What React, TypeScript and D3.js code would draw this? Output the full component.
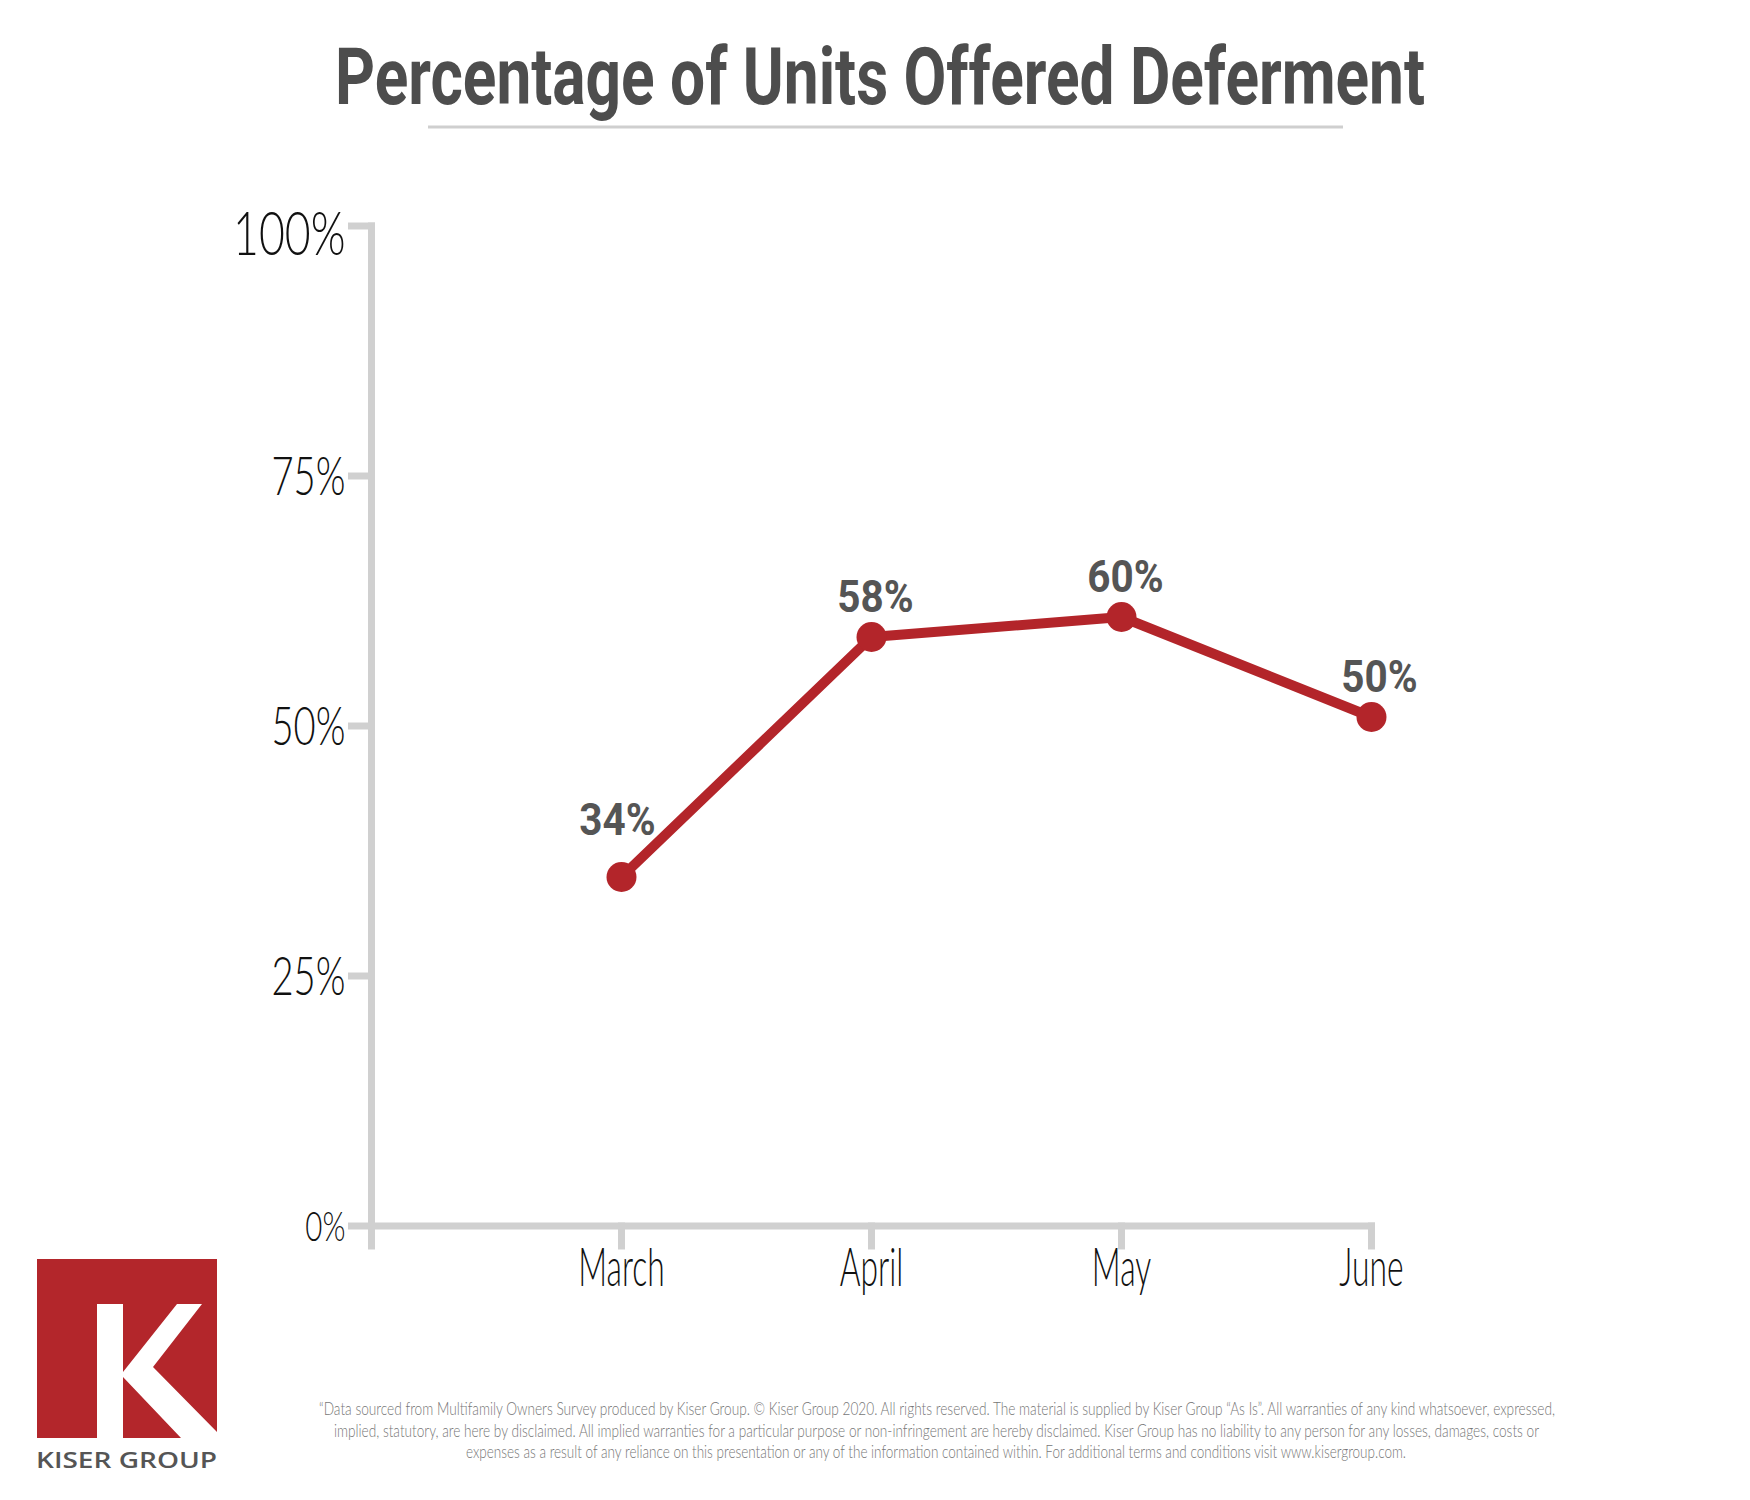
import React, { useRef, useEffect } from 'react';
import * as d3 from 'd3';

// chart data
const months = ['March', 'April', 'May', 'June'];
const deferredPct = [34.9, 58.9, 60.9, 50.9];
const pctLabels = ['34%', '58%', '60%', '50%'];
const yTicks = [0, 25, 50, 75, 100];

const titleText = 'Percentage of Units Offered Deferment';
const footnoteLines = [
    '\u201CData sourced from Multifamily Owners Survey produced by Kiser Group. \u00A9 Kiser Group 2020. All rights reserved. The material is supplied by Kiser Group \u201CAs Is\u201D. All warranties of any kind whatsoever, expressed,',
    'implied, statutory, are here by disclaimed. All implied warranties for a particular purpose or non-infringement are hereby disclaimed. Kiser Group has no liability to any person for any losses, damages, costs or',
    'expenses as a result of any reliance on this presentation or any of the information contained within. For additional terms and conditions visit www.kisergroup.com.',
];

const WIDTH = 1750;
const HEIGHT = 1500;
const AXIS_GREY = '#d0d0d0';
const RED = '#b3252a';
const LABEL_GREY = '#555555';
const BOLD = 'Roboto, "Liberation Sans", sans-serif';
const THIN = 'Lato, Roboto, "Liberation Sans", sans-serif';

const App = () => {
    const svgRef = useRef<SVGSVGElement>(null);

    useEffect(() => {
        if (!svgRef.current) return;
        const svg = d3.select(svgRef.current);
        svg.selectAll('*').remove();

        const x = d3.scaleLinear().domain([0, months.length]).range([371.5, 1371.5]);
        const y = d3.scaleLinear().domain([0, 100]).range([1226, 226]);

        // Title + rule under it
        svg.append('text')
            .attr('x', 335).attr('y', 104)
            .attr('font-family', BOLD)
            .attr('font-weight', 700)
            .attr('font-size', 80)
            .attr('fill', '#4d4d4d')
            .attr('textLength', 1090)
            .attr('lengthAdjust', 'spacingAndGlyphs')
            .text(titleText);

        svg.append('line')
            .attr('x1', 428).attr('x2', 1343)
            .attr('y1', 127).attr('y2', 127)
            .attr('stroke', '#cfcfcf').attr('stroke-width', 3);

        const axes = svg.append('g')
            .attr('stroke', AXIS_GREY)
            .attr('stroke-width', 7)
            .attr('stroke-linecap', 'square');

        // Y axis with ticks pointing left
        axes.append('line')
            .attr('x1', x(0)).attr('x2', x(0))
            .attr('y1', y(100)).attr('y2', y(0));
        axes.selectAll('.y-tick')
            .data(yTicks).enter().append('line')
            .attr('class', 'y-tick')
            .attr('x1', x(0) - 20).attr('x2', x(0))
            .attr('y1', d => y(d)).attr('y2', d => y(d));

        // X axis with ticks pointing down (origin + each month)
        axes.append('line')
            .attr('x1', x(0)).attr('x2', x(months.length))
            .attr('y1', y(0)).attr('y2', y(0));
        axes.selectAll('.x-tick')
            .data(d3.range(months.length + 1)).enter().append('line')
            .attr('class', 'x-tick')
            .attr('x1', d => x(d)).attr('x2', d => x(d))
            .attr('y1', y(0)).attr('y2', y(0) + 20);

        // Y tick labels (the top one is drawn bigger, the bottom one smaller)
        const tickSize = (v: number) => (v === 100 ? 62 : v === 0 ? 41 : 53);
        const tickDy = (v: number) => (v === 100 ? 29 : v === 0 ? 15 : 19);
        svg.selectAll('.y-label')
            .data(yTicks).enter().append('text')
            .attr('class', 'y-label')
            .attr('transform', d => `translate(${x(0) - 26},${y(d) + tickDy(d)}) scale(0.72,1)`)
            .attr('text-anchor', 'end')
            .attr('font-family', THIN)
            .attr('font-weight', 300)
            .attr('font-size', d => tickSize(d))
            .attr('fill', '#111')
            .text(d => `${d}%`);

        // Month labels
        svg.selectAll('.x-label')
            .data(months).enter().append('text')
            .attr('class', 'x-label')
            .attr('transform', (d, i) => `translate(${x(i + 1)},1286) scale(0.6,1)`)
            .attr('text-anchor', 'middle')
            .attr('font-family', THIN)
            .attr('font-weight', 300)
            .attr('font-size', 53)
            .attr('fill', '#111')
            .text(d => d);

        // Series line + markers
        const line = d3.line<number>()
            .x((d, i) => x(i + 1))
            .y(d => y(d));

        svg.append('path')
            .datum(deferredPct)
            .attr('d', line)
            .attr('fill', 'none')
            .attr('stroke', RED)
            .attr('stroke-width', 10)
            .attr('stroke-linejoin', 'round');

        svg.selectAll('.dot')
            .data(deferredPct).enter().append('circle')
            .attr('class', 'dot')
            .attr('cx', (d, i) => x(i + 1))
            .attr('cy', d => y(d))
            .attr('r', 15)
            .attr('fill', RED);

        // value labels sit above the markers, nudged a little sideways
        const nudgeX = [-4, 4, 4, 8];
        svg.selectAll('.value-label')
            .data(deferredPct).enter().append('text')
            .attr('class', 'value-label')
            .attr('transform', (d, i) => `translate(${x(i + 1) + nudgeX[i]},${y(d) - (i === 0 ? 42 : 25)}) scale(0.92,1)`)
            .attr('text-anchor', 'middle')
            .attr('font-family', BOLD)
            .attr('font-weight', 700)
            .attr('font-size', 44)
            .attr('fill', LABEL_GREY)
            .text((d, i) => pctLabels[i]);

        // Logo
        const logo = svg.append('g');
        logo.append('rect')
            .attr('x', 37).attr('y', 1259)
            .attr('width', 180).attr('height', 179)
            .attr('fill', '#b3262b');
        logo.append('rect')
            .attr('x', 97).attr('y', 1304)
            .attr('width', 26).attr('height', 134)
            .attr('fill', '#fff');
        logo.append('polygon')
            .attr('points', '123,1372 177,1304 202,1304 153,1367 217,1432 217,1438 181,1438 123,1377')
            .attr('fill', '#fff');
        logo.append('text')
            .attr('x', 36).attr('y', 1468)
            .attr('font-family', '"Open Sans", sans-serif')
            .attr('font-weight', 600)
            .attr('font-size', 22)
            .attr('fill', LABEL_GREY)
            .attr('textLength', 181)
            .attr('lengthAdjust', 'spacingAndGlyphs')
            .text('KISER GROUP');

        // Footnote
        const footLeft = [319, 334, 466];
        const footWidth = [1236, 1205, 940];
        const footBase = [1415, 1437, 1458];
        svg.selectAll('.foot')
            .data(footnoteLines).enter().append('text')
            .attr('class', 'foot')
            .attr('x', (d, i) => footLeft[i])
            .attr('y', (d, i) => footBase[i])
            .attr('font-family', THIN)
            .attr('font-weight', 300)
            .attr('font-size', 18)
            .attr('fill', '#777')
            .attr('textLength', (d, i) => footWidth[i])
            .attr('lengthAdjust', 'spacingAndGlyphs')
            .text(d => d);
    }, []);

    return (
        <svg
            ref={svgRef}
            width={WIDTH}
            height={HEIGHT}
            style={{ position: 'absolute', left: 0, top: 0, background: '#fff' }}
        />
    );
};

export default App;
